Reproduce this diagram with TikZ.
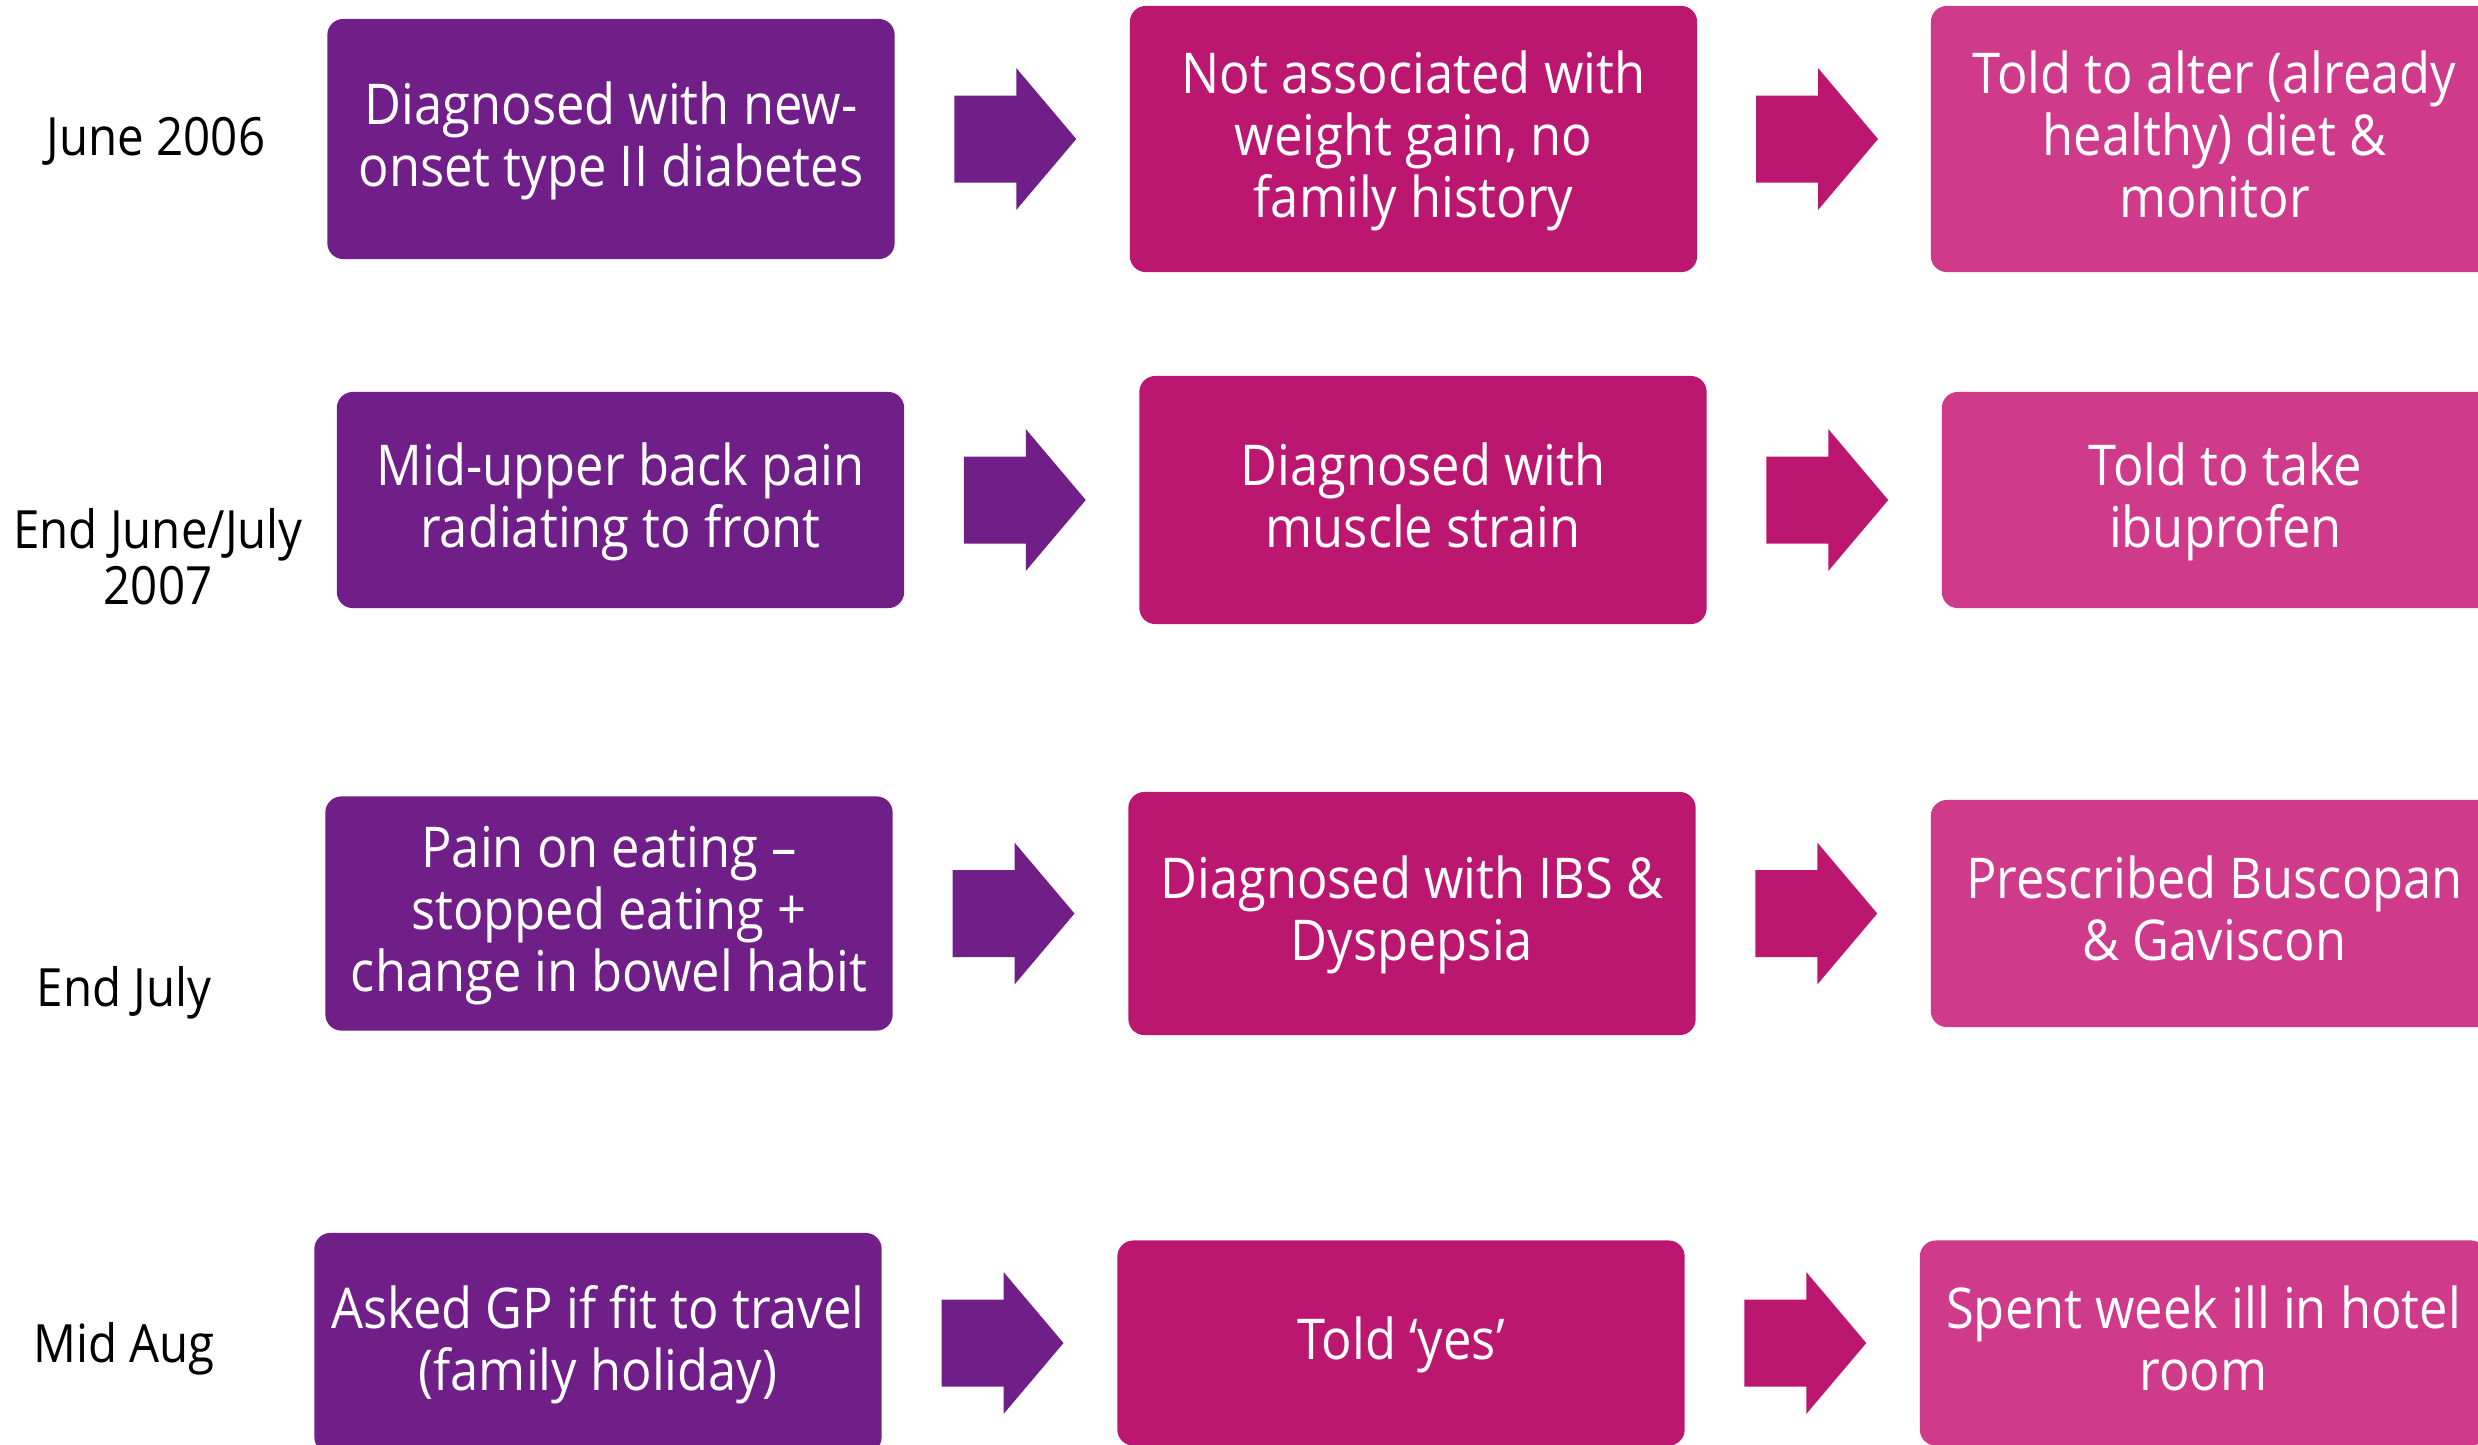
\documentclass[tikz,border=0pt]{standalone}
\usepackage{fontspec}
\setmainfont{Open Sans}[FakeStretch=0.9]
\usetikzlibrary{calc}
\definecolor{violet1}{RGB}{112,30,136}
\definecolor{magenta1}{RGB}{187,23,112}
\definecolor{pink1}{RGB}{207,58,138}
\tikzset{
	box/.style={fill=#1, rounded corners=0.16cm, minimum width=5.67cm, inner sep=0pt,
		text=white, align=center, font=\fontsize{16}{17.6}\selectfont},
	date/.style={text=black, align=center, font=\fontsize{15}{15.9}\selectfont},
}
% block arrow half way between two boxes
\newcommand{\blockarrow}[3]{%
	\coordinate (m) at ($(#1.east)!0.5!(#2.west)+(3,0)$);
	\fill[#3] ([shift={(-61,-43.5)}]m) -- ++(62,0) -- ++(0,-27.5) -- ++(60,71)
	-- ++(-60,71) -- ++(0,-27.5) -- ++(-62,0) -- cycle;}
\begin{document}
\begin{tikzpicture}[x=0.01cm,y=-0.01cm]
	\clip (0,0) rectangle (2478,1444);
	\fill[white] (0,0) rectangle (2478,1444);
	% dates
	\node[date] (d1) at (156,141) {June 2006};
	\node[date] (d2) at (158,557) {End June/July\\2007};
	\node[date] (d3) at (124,993) {End July};
	\node[date] (d4) at (124,1349) {Mid Aug};
	% boxes
	\foreach \ten/\x/\y/\h/\mau/\chu in {
		a1/611/139/2.40/violet1/{Diagnosed with new-\\onset type II diabetes},
		b1/1413.5/139/2.66/magenta1/{Not associated with\\weight gain, no\\family history},
		c1/2214.5/139/2.66/pink1/{Told to alter (already\\healthy) diet \&\\monitor},
		a2/620.5/500/2.16/violet1/{Mid-upper back pain\\radiating to front},
		b2/1423/500/2.48/magenta1/{Diagnosed with\\muscle strain},
		c2/2225.5/500/2.16/pink1/{Told to take\\ibuprofen},
		a3/609/913.5/2.34/violet1/{Pain on eating –\\stopped eating +\\change in bowel habit},
		b3/1412/913.5/2.43/magenta1/{Diagnosed with IBS \&\\Dyspepsia},
		c3/2214.5/913.5/2.27/pink1/{Prescribed Buscopan\\\& Gaviscon},
		a4/598/1343/2.20/violet1/{Asked GP if fit to travel\\(family holiday)},
		b4/1401/1343/2.05/magenta1/{Told ‘yes’},
		c4/2203.5/1343/2.05/pink1/{Spent week ill in hotel\\room}}
	\node[box=\mau, minimum height=\h cm, text depth=0.1cm] (\ten) at (\x,\y) {\chu};
	% arrows
	\foreach \r in {1,...,4}{
		\blockarrow{a\r}{b\r}{violet1}
		\blockarrow{b\r}{c\r}{magenta1}
	}
\end{tikzpicture}
\end{document}
